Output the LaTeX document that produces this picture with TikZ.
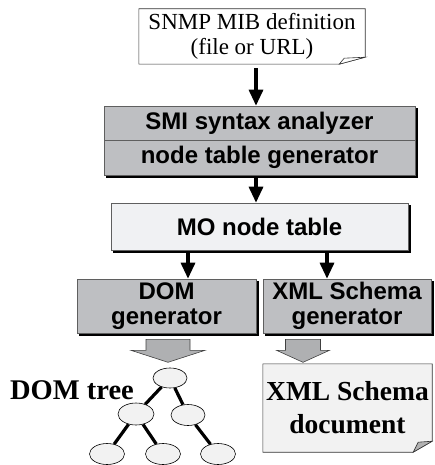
\documentclass[tikz,border=0pt]{standalone}
\usepackage{fontspec}
\setmainfont{Liberation Serif}
\setsansfont{Liberation Sans}
\usetikzlibrary{arrows.meta,shapes.geometric,backgrounds,calc}
\definecolor{boxgray}{RGB}{190,191,194}
\definecolor{palegray}{RGB}{240,241,243}
\definecolor{docgray}{RGB}{242,242,242}
\definecolor{rimgray}{RGB}{95,95,95}

\begin{document}
\begin{tikzpicture}[
  x=1pt, y=-1pt,
  shadowed/.style={preaction={draw=black, fill=black,
                   transform canvas={xshift=2.5pt,yshift=-2.5pt}}},
  gen/.style={shadowed, draw=rimgray, fill=boxgray, line width=0.6pt,
              inner sep=0pt, align=center,
              font=\sffamily\bfseries\fontsize{24}{25}\selectfont},
  tab/.style={gen, fill=palegray},
  doctext/.style={inner sep=0pt, align=center},
  doc/.style={draw=black!80, fill=docgray, line width=0.6pt},
  flap/.style={draw=black!80, fill=black!30, line width=0.6pt},
  ar/.style={-{Triangle[length=16pt,width=14pt]}, line width=3.2pt},
  fat/.style={draw=black!75, fill=boxgray!92!black, line width=0.6pt},
  leaf/.style={ellipse, draw=black, fill=docgray, line width=0.6pt,
               minimum width=35pt, minimum height=21pt, inner sep=0pt},
  edge/.style={line width=3.2pt},
]
\useasboundingbox (0,0) rectangle (434,465);

% input definition
\node[doctext, minimum width=226pt, minimum height=55pt,
      font=\fontsize{23}{25}\selectfont] (mib) at (252,36.5)
      {SNMP MIB definition\\(file or URL)};

% analyzer stack
\node[gen, minimum width=311pt, minimum height=34pt] (smi) at (259.5,123) {SMI syntax analyzer};
\node[gen, minimum width=311pt, minimum height=35pt] (ntg) at (259.5,157.5) {node table generator};
\node[tab, minimum width=297pt, minimum height=47pt] (mo) at (259.5,226.5) {MO node table};

\node[gen, minimum width=179pt, minimum height=54pt] (domg) at (166.5,306) {DOM\\generator};
\node[gen, minimum width=168pt, minimum height=54pt] (xmlg) at (347,306) {XML Schema\\generator};

% outputs
\node[doctext, font=\bfseries\fontsize{28.5}{33}\selectfont] (domlab) at (72,390) {DOM tree};
\node[doctext, minimum width=169pt, minimum height=84pt,
      font=\bfseries\fontsize{27.5}{33}\selectfont] (xdoc) at (347.5,408)
      {XML Schema\\document};

\node[leaf, minimum width=34pt, minimum height=20pt] (root) at (170,378) {};
\node[leaf, minimum width=36pt, minimum height=22pt] (l2a) at (136,414) {};
\node[leaf, minimum width=34pt, minimum height=21pt] (l2b) at (188,415) {};
\node[leaf] (l3a) at (107,454) {};
\node[leaf] (l3b) at (163,454) {};
\node[leaf] (l3c) at (218,454) {};

\begin{scope}[on background layer]
  \draw[doc, fill=white] (mib.north west) -- (mib.north east)
    -- ([yshift=7pt]mib.south east) -- ([xshift=-26pt]mib.south east)
    -- (mib.south west) -- cycle;
  \draw[flap, fill=white] ([xshift=-26pt]mib.south east)
    -- ([xshift=-21pt,yshift=6pt]mib.south east) -- ([yshift=7pt]mib.south east) -- cycle;
  \draw[doc] ([yshift=2pt]xdoc.north west) -- ([yshift=2pt]xdoc.north east)
    -- ([yshift=9pt]xdoc.south east) -- ([xshift=-19pt,yshift=-2pt]xdoc.south east)
    -- ([yshift=-2pt]xdoc.south west) -- cycle;
  \draw[edge] (root) -- (l2a);
  \draw[edge] (root) -- (l2b);
  \draw[edge] (l2a) -- (l3a);
  \draw[edge] (l2a) -- (l3b);
  \draw[edge] (l2b) -- (l3c);
\end{scope}
\draw[flap] ([xshift=-19pt,yshift=-2pt]xdoc.south east)
  -- ([xshift=-14pt,yshift=8pt]xdoc.south east) -- ([yshift=9pt]xdoc.south east) -- cycle;

\draw[ar, shorten <=4pt] ([xshift=4pt]mib.south) -- ([xshift=4pt]mib.south |- smi.north);
\draw[ar, shorten <=2pt] ([xshift=-3.5pt]ntg.south) -- ([xshift=-3.5pt]ntg.south |- mo.north);
\draw[ar, shorten <=2pt] ([xshift=-71.5pt]mo.south) -- ([xshift=-71.5pt]mo.south |- domg.north);
\draw[ar, shorten <=2pt] ([xshift=67.5pt]mo.south) -- ([xshift=67.5pt]mo.south |- xmlg.north);

\draw[fat] ([xshift=1.5pt,yshift=-6pt]domg.south) ++(-22,0) -- ++(0,11) -- ++(-15,0)
  -- ++(37,12) -- ++(37,-12) -- ++(-15,0) -- ++(0,-11) -- cycle;
\draw[fat] ([xshift=-44pt,yshift=-6pt]xmlg.south) ++(-17.5,0) -- ++(0,11) -- ++(-9,0)
  -- ++(26.5,12) -- ++(26.5,-12) -- ++(-9,0) -- ++(0,-11) -- cycle;

\end{tikzpicture}
\end{document}
